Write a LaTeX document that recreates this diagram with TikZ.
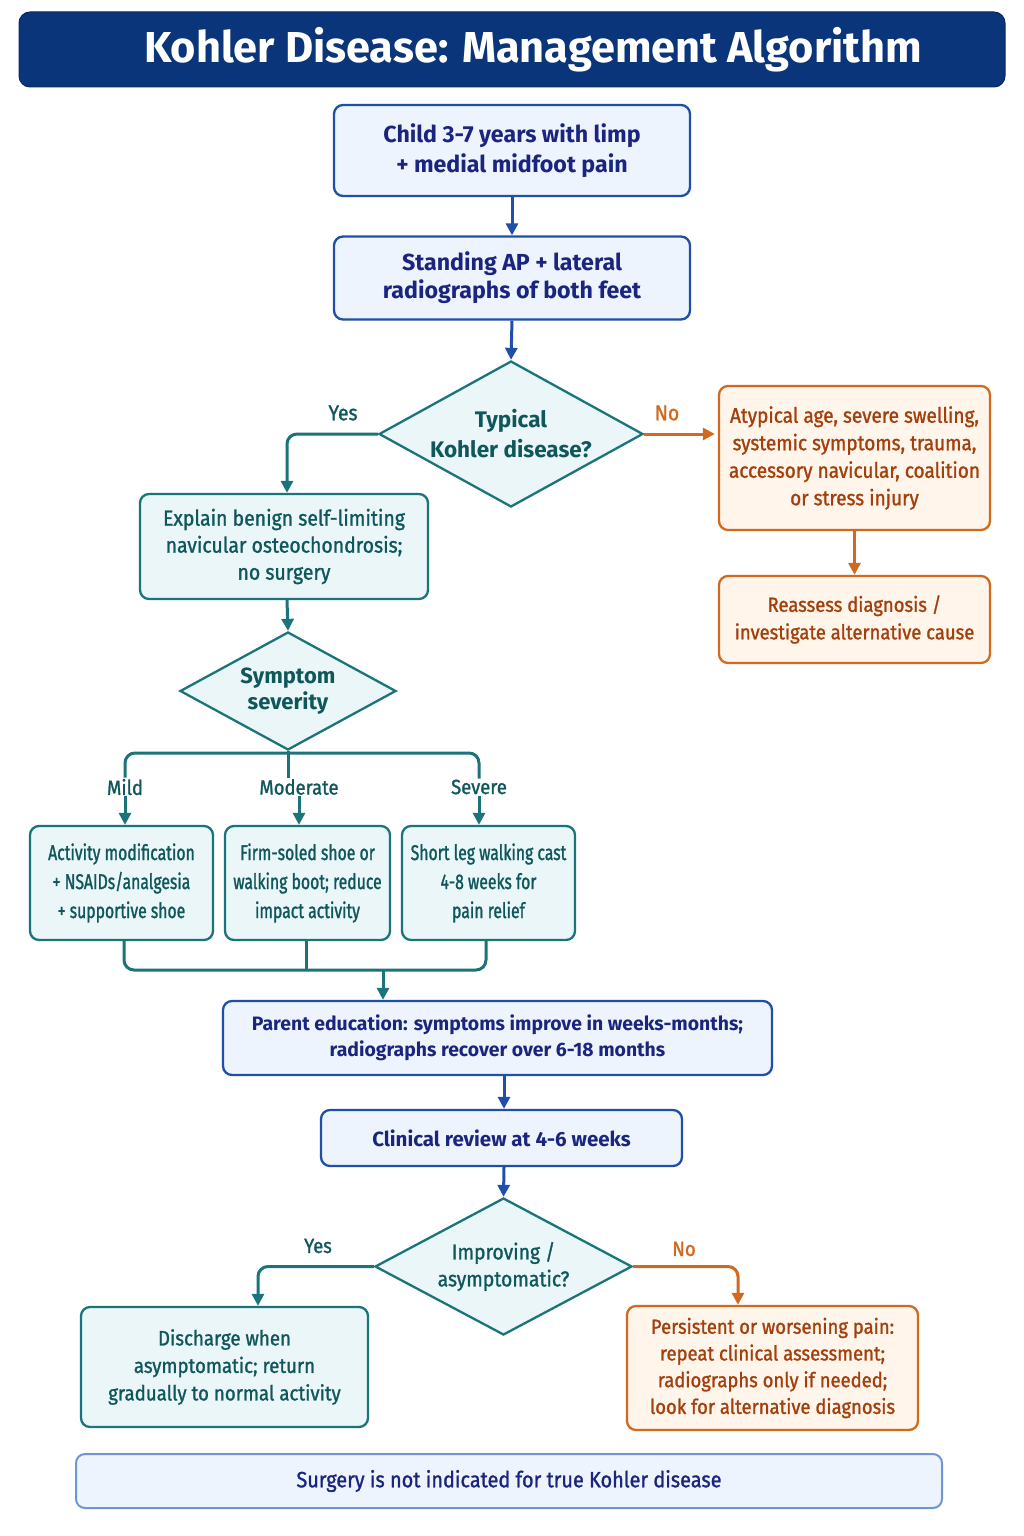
\documentclass[tikz,border=0pt]{standalone}
\usepackage{fontspec}
\setmainfont{Fira Sans}[FakeStretch=0.9, FakeBold=1.2]
\newfontfamily\semib{Fira Sans}
\newfontfamily\condf{Fira Sans}[FakeStretch=0.74, FakeBold=1.2]
\usetikzlibrary{shapes.geometric,arrows.meta}
\definecolor{navy}{HTML}{0B357A}
\definecolor{navytext}{HTML}{1A2580}
\definecolor{bluec}{HTML}{1F4FA8}
\definecolor{bluefill}{HTML}{EEF4FD}
\definecolor{tealc}{HTML}{1B7479}
\definecolor{tealtext}{HTML}{10575C}
\definecolor{tealfill}{HTML}{EAF6F7}
\definecolor{orangec}{HTML}{D2691E}
\definecolor{orangetext}{HTML}{A33F0C}
\definecolor{orangefill}{HTML}{FFF5EA}
\definecolor{footc}{HTML}{7095D6}
\newcommand\fsz[2]{\fontsize{#1}{#2}\selectfont}
\tikzset{
  basebox/.style={rectangle, rounded corners=9pt, line width=2.3pt, align=center, inner sep=0pt},
  bluebox/.style={basebox, draw=bluec, fill=bluefill, text=navytext},
  tealbox/.style={basebox, draw=tealc, fill=tealfill, text=tealtext},
  orangebox/.style={basebox, draw=orangec, fill=orangefill, text=orangetext},
  dia/.style={diamond, draw=tealc, fill=tealfill, text=tealtext, line width=2.3pt, align=center, inner sep=0pt},
  lbl/.style={inner sep=1pt, font=\fsz{20.5}{24}},
  tarr/.style={draw=tealc, line width=3pt, -{Triangle[length=12pt,width=12pt]}},
  tline/.style={draw=tealc, line width=3pt},
  barr/.style={draw=bluec, line width=3pt, -{Triangle[length=12pt,width=12pt]}},
  oarr/.style={draw=orangec, line width=3pt, -{Triangle[length=12pt,width=12pt]}},
}
\begin{document}
\begin{tikzpicture}[x=1pt,y=-1pt]
\useasboundingbox (0,0) rectangle (1024,1536);
\fill[white] (0,0) rectangle (1024,1536);
% title
\node[rectangle, rounded corners=11pt, fill=navy, draw=navy!80!black, line width=1pt, minimum width=986pt, minimum height=75pt] (title) at (512,49.5) {};
\node[text=white, font=\semib\bfseries\fsz{43.3}{48}, inner sep=0pt] (ttext) at (533,49.5) {Kohler Disease: Management Algorithm};
% top boxes
\node[bluebox, minimum width=356pt, minimum height=91pt, font=\semib\bfseries\fsz{23.2}{30}] (b1) at (512,150.5) {Child 3-7 years with limp\\+ medial midfoot pain};
\node[bluebox, minimum width=356pt, minimum height=83pt, font=\semib\bfseries\fsz{23.2}{28}] (b2) at (512,278) {Standing AP + lateral\\radiographs of both feet};
\node[dia, aspect=1.81, minimum width=264pt, minimum height=146pt, font=\semib\bfseries\fsz{22.5}{30}] (d1) at (511,434) {Typical\\Kohler disease?};
\node[orangebox, minimum width=271pt, minimum height=144pt, font=\fsz{21.15}{27.5}] (b4) at (854.5,458) {Atypical age, severe swelling,\\systemic symptoms, trauma,\\accessory navicular, coalition\\or stress injury};
\node[orangebox, minimum width=271pt, minimum height=87pt, font=\fsz{20.5}{27.5}] (b5) at (854.5,619.5) {Reassess diagnosis /\\investigate alternative cause};
\node[tealbox, minimum width=288pt, minimum height=105pt, font=\fsz{21.6}{27}] (b3) at (284,546.5) {Explain benign self-limiting\\navicular osteochondrosis;\\no surgery};
\node[dia, aspect=1.83, minimum width=216pt, minimum height=118pt, font=\semib\bfseries\fsz{22}{26}] (d2) at (288,691) {Symptom\\severity};
% severity labels
\node[lbl, text=tealtext] (lmild) at (125,787) {Mild};
\node[lbl, text=tealtext] (lmod) at (299,787) {Moderate};
\node[lbl, text=tealtext] (lsev) at (479,787) {Severe};
\coordinate (j) at (288,753);
% row boxes
\node[tealbox, minimum width=183pt, minimum height=114pt, font=\condf\fsz{21.3}{29}] (bmild) at (121.5,883) {Activity modification\\+ NSAIDs/analgesia\\+ supportive shoe};
\node[tealbox, minimum width=165pt, minimum height=114pt, font=\condf\fsz{21.3}{29}] (bmod) at (307.5,883) {Firm-soled shoe or\\walking boot; reduce\\impact activity};
\node[tealbox, minimum width=173pt, minimum height=114pt, font=\condf\fsz{21.3}{29}] (bsev) at (488.5,883) {Short leg walking cast\\4-8 weeks for\\pain relief};
\coordinate (m) at (383,970);
% lower
\node[bluebox, minimum width=549pt, minimum height=74pt, font=\semib\bfseries\fsz{19.4}{26}] (b6) at (497.5,1038) {Parent education: symptoms improve in weeks-months;\\radiographs recover over 6-18 months};
\node[bluebox, minimum width=361pt, minimum height=56pt, font=\semib\bfseries\fsz{20.5}{26}] (b7) at (501.5,1138) {Clinical review at 4-6 weeks};
\node[dia, aspect=1.88, minimum width=257pt, minimum height=137pt, font=\fsz{21.5}{27}] (d3) at (503.5,1266.5) {Improving /\\asymptomatic?};
\node[tealbox, minimum width=287pt, minimum height=120pt, font=\fsz{20.75}{27.5}] (b8) at (224.5,1367) {Discharge when\\asymptomatic; return\\gradually to normal activity};
\node[orangebox, minimum width=291pt, minimum height=124pt, font=\fsz{20.5}{26.7}] (b9) at (772.5,1368) {Persistent or worsening pain:\\repeat clinical assessment;\\radiographs only if needed;\\look for alternative diagnosis};
\node[basebox, draw=footc, fill=bluefill, text=navytext, line width=2pt, minimum width=866pt, minimum height=54pt, font=\fsz{22.1}{26}] (foot) at (509,1481) {Surgery is not indicated for true Kohler disease};
% connectors
\draw[barr] (b1.south) -- (b2.north);
\draw[barr] (b2.south) -- (d1.north);
\draw[tarr, rounded corners=10pt] (d1.west) -| ([xshift=3pt]b3.north);
\node[lbl, text=tealtext, font=\fsz{21.5}{24}] (yes1) at (343,413) {Yes};
\draw[oarr] (d1.east) -- ([xshift=-3pt]b4.west |- d1.east);
\node[lbl, text=orangec, font=\fsz{21.5}{24}] (no1) at (667,413) {No};
\draw[oarr] (b4.south) -- (b5.north);
\draw[tarr] ([xshift=3pt]b3.south) -- (d2.north);
\draw[tline, rounded corners=10pt] (lmild.north) |- (j) -| (lsev.north);
\draw[tline] (d2.south) -- (d2.south |- lmod.north);
\draw[tarr] (lmild.south) -- (lmild.south |- bmild.north);
\draw[tarr] (lmod.south) -- (lmod.south |- bmod.north);
\draw[tarr] (lsev.south) -- (lsev.south |- bsev.north);
\draw[tline, rounded corners=10pt] ([xshift=2.5pt]bmild.south) |- (m) -| ([xshift=-2.5pt]bsev.south);
\draw[tline] ([xshift=-1.5pt]bmod.south) -- ([xshift=-1.5pt]bmod.south |- m);
\draw[tarr] (m) -- (m |- b6.north);
\draw[barr] ([xshift=6.5pt]b6.south) -- ([xshift=2.5pt]b7.north);
\draw[barr] ([xshift=2.5pt]b7.south) -- (d3.north);
\draw[tarr, rounded corners=10pt] (d3.west) -| ([xshift=33.5pt]b8.north);
\node[lbl, text=tealtext] (yes2) at (318,1246) {Yes};
\draw[oarr, rounded corners=10pt] (d3.east) -| ([xshift=-34.5pt]b9.north);
\node[lbl, text=orangec] (no2) at (684,1249) {No};
\end{tikzpicture}
\end{document}
